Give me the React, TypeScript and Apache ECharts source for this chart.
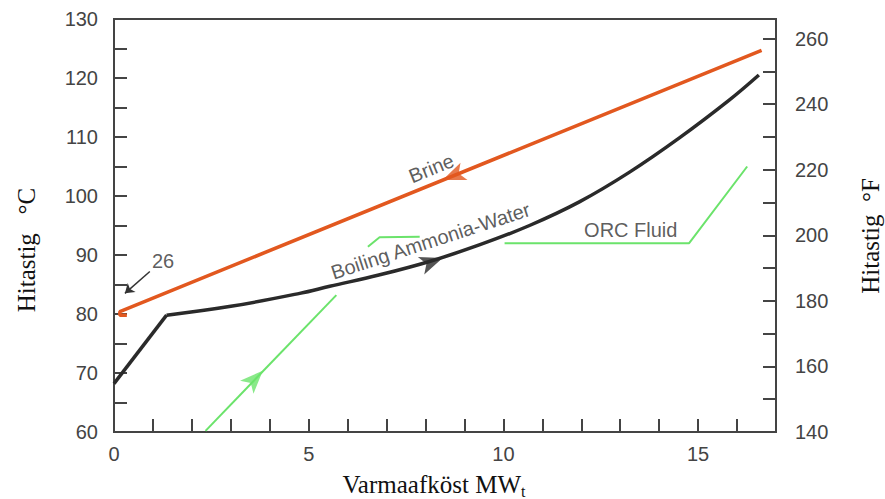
import React, { useEffect, useRef } from "react";
import * as echarts from "echarts";

// ---- data (x: Varmaafköst MWt, y: °C) ----
const brine: number[][] = [[0.33, 79.8], [0.15, 79.8], [0.15, 80.4], [16.63, 124.7]];
const ammoniaPreheat: number[][] = [[0, 68.2], [1.35, 79.8]];
const ammoniaBoil: number[][] = [
  [1.35, 79.8], [3.0, 81.3], [4.77, 83.5], [5.54, 84.7], [6.8, 86.6], [8.1, 88.9],
  [9.38, 91.7], [10.67, 95.0], [11.95, 99.0], [13.23, 104.0], [14.51, 109.8],
  [15.79, 116.2], [16.56, 120.5],
];
const orcPreheat: number[][] = [[2.35, 60.2], [5.71, 83.2]];
const orcMid: number[][] = [[6.52, 91.4], [6.82, 93.0], [7.85, 93.1]];
const orcUpper: number[][] = [[10.03, 92.0], [14.77, 92.0], [16.26, 105.0]];

// flow-direction arrows: [x, y, rotation]
const arrowBrine = [8.44, 102.7, 112];
const arrowAmmonia = [8.44, 89.5, -70];
const arrowOrc = [3.82, 70.4, -44];

// annotation labels
const labelTexts = ["Brine", "Boiling Ammonia-Water", "ORC Fluid", "26"];
const labelPos: number[][] = [[8.15, 104.7], [8.13, 92.4], [13.27, 94.2], [1.26, 88.9]];
const labelRot = [22, 18, 0, 0];
const pointer26: number[][] = [[0.92, 87.2], [0.28, 83.5]];

// axes
const xMin = 0, xMax = 17, xStep = 1, xLabelEvery = 5;
const cMin = 60, cMax = 130, cStep = 5, cLabelEvery = 10;
const fMin = 140, fMax = 266, fStep = 10, fLabelEvery = 20, fLabelMax = 260;
const xTitle = "Varmaafköst MW";
const xTitleSub = "t";
const yTitleLeft = "Hitastig\u00A0\u00A0\u00A0°C";
const yTitleRight = "Hitastig\u00A0\u00A0°F";

const ORANGE = "#e2581f";
const BLACK = "#2a2a2a";
const GREEN = "#6be36b";
const AXIS = "#444";
const SANS = 'Arial, "Liberation Sans", Helvetica, sans-serif';
const SERIF = '"Times New Roman", "Liberation Serif", serif';

export default function App() {
  const ref = useRef<HTMLDivElement>(null);
  useEffect(() => {
    if (!ref.current) return;
    const chart = echarts.init(ref.current, null, { renderer: "svg" });
    const tickStyle = { show: true, inside: true, length: 13, lineStyle: { color: AXIS, width: 2 } };
    const lbl = { color: AXIS, fontSize: 20, fontFamily: SANS };
    const lineSeries = (data: number[][], color: string, width: number, smooth: number | boolean = false) => ({
      type: "line",
      data,
      showSymbol: false,
      smooth,
      lineStyle: { color, width },
      itemStyle: { color },
      silent: true,
      yAxisIndex: 0,
    });
    const arrow = (a: number[], color: string) => ({
      type: "scatter",
      data: [[a[0], a[1]]],
      symbol: "arrow",
      symbolSize: [14, 23],
      symbolRotate: a[2],
      itemStyle: { color },
      silent: true,
      z: 5,
    });
    chart.setOption({
      animation: false,
      backgroundColor: "#fff",
      grid: {
        left: 114, right: 109, top: 19, bottom: 67,
        outerBoundsMode: "none",
        show: true, borderColor: AXIS, borderWidth: 2, backgroundColor: "transparent",
      },
      graphic: [
        {
          type: "text",
          x: 26,
          y: 250,
          rotation: Math.PI / 2,
          style: { text: yTitleLeft, font: `25px ${SERIF}`, fill: "#111", align: "center", verticalAlign: "middle" },
        },
        {
          type: "text",
          x: 870,
          y: 236,
          rotation: Math.PI / 2,
          style: { text: yTitleRight, font: `25px ${SERIF}`, fill: "#111", align: "center", verticalAlign: "middle" },
        },
        {
          type: "text",
          x: 434,
          y: 484,
          style: {
            text: `{m|${xTitle}}{s|${xTitleSub}}`,
            align: "center",
            verticalAlign: "middle",
            rich: {
              m: { fontFamily: SERIF, fontSize: 25, fill: "#111", color: "#111" },
              s: { fontFamily: SERIF, fontSize: 16, fill: "#111", color: "#111", verticalAlign: "bottom", padding: [0, 0, -3, 0] },
            },
          },
        },
      ],
      xAxis: {
        type: "value",
        min: xMin,
        max: xMax,
        interval: xStep,
        axisLine: { show: true, lineStyle: { color: AXIS, width: 2 } },
        axisTick: tickStyle,
        splitLine: { show: false },
        axisLabel: {
          ...lbl,
          margin: 12,
          showMaxLabel: false,
          formatter: (v: number) => (v % xLabelEvery === 0 ? String(v) : ""),
        },
      },
      yAxis: [
        {
          type: "value",
          position: "left",
          min: cMin,
          max: cMax,
          interval: cStep,
          axisLine: { show: true, lineStyle: { color: AXIS, width: 2 } },
          axisTick: tickStyle,
          splitLine: { show: false },
          axisLabel: { ...lbl, margin: 16, formatter: (v: number) => (v % cLabelEvery === 0 ? String(v) : "") },
        },
        {
          type: "value",
          position: "right",
          min: fMin,
          max: fMax,
          interval: fStep,
          axisLine: { show: true, lineStyle: { color: AXIS, width: 2 } },
          axisTick: tickStyle,
          splitLine: { show: false },
          axisLabel: {
            ...lbl,
            margin: 19,
            showMaxLabel: false,
            formatter: (v: number) => (v % fLabelEvery === 0 && v <= fLabelMax ? String(v) : ""),
          },
        },
      ],
      series: [
        lineSeries(orcPreheat, GREEN, 2),
        lineSeries(orcMid, GREEN, 2),
        lineSeries(orcUpper, GREEN, 2),
        lineSeries(brine, ORANGE, 3.5),
        lineSeries(ammoniaPreheat, BLACK, 3.5),
        lineSeries(ammoniaBoil, BLACK, 3.5, 0.4),
        arrow(arrowBrine, ORANGE),
        arrow(arrowAmmonia, BLACK),
        arrow(arrowOrc, GREEN),
        {
          type: "scatter",
          silent: true,
          symbolSize: 1,
          itemStyle: { color: "rgba(0,0,0,0)" },
          z: 6,
          data: labelTexts.map((t, i) => ({
            value: labelPos[i],
            label: {
              show: true,
              position: "inside",
              formatter: t,
              rotate: labelRot[i],
              fontSize: 20,
              fontFamily: SANS,
              color: "#333",
            },
          })),
          markLine: {
            silent: true,
            symbol: ["none", "arrow"],
            symbolSize: 9,
            label: { show: false },
            lineStyle: { color: "#333", width: 1.5, type: "solid" },
            data: [[{ coord: pointer26[0] }, { coord: pointer26[1] }]],
          },
        },
      ],
    });
    return () => chart.dispose();
  }, []);
  return (
    <div
      ref={ref}
      style={{ position: "fixed", left: 0, top: 0, width: 885, height: 499, background: "#fff" }}
    />
  );
}
